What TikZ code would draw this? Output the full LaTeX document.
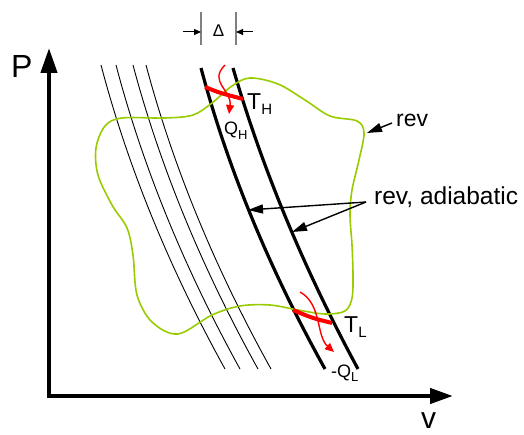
\documentclass[tikz,border=0pt]{standalone}
\usepackage{fontspec}
\setmainfont{Liberation Sans}
\usetikzlibrary{arrows.meta,calc}
\definecolor{blobgreen}{RGB}{153,204,0}
\newcommand{\fsz}[1]{\fontsize{#1}{#1}\selectfont}
\newcommand{\quadcurve}[4][]{\draw[#1] (#2) .. controls ($(#2)!2/3!(#3)$) and ($(#4)!2/3!(#3)$) .. (#4);}
\begin{document}
\begin{tikzpicture}[x=1pt,y=-1pt,
  lbl/.style={inner sep=0pt, anchor=base west},
  axisline/.style={line width=4.2pt, {Triangle[length=23pt,width=15pt]}-{Triangle[length=25pt,width=16pt]}},
  thickcurve/.style={line width=3.2pt},
  thincurve/.style={line width=0.9pt},
  blob/.style={draw=blobgreen, line width=1.6pt},
  heatline/.style={red, line width=4pt},
  heatarrow/.style={red, line width=1.4pt, -{Triangle[length=9pt,width=8pt]}},
  pointer/.style={line width=1.4pt, -{Triangle[length=15pt,width=9pt]}},
  ticker/.style={gray, line width=1.5pt},
  dimarrow/.style={line width=1pt, -{Triangle[length=7pt,width=6pt]}},
]
\useasboundingbox (0,0) rectangle (524,435);

% axes
\coordinate (O) at (49,396);
\coordinate (xtip) at (453,396);
\coordinate (ytip) at (49,48);
\draw[axisline] (xtip) -- (O) -- (ytip);
\node[lbl, font=\fsz{32}] (Plab) at (11,78) {P};
\node[lbl, font=\fsz{30}] (vlab) at (421,428) {v};

% thin isentropes
\foreach \xa/\xb [count=\i] in {101/225, 116/240, 133/258, 146/271}{
  \coordinate (ta\i) at (\xa,65);
  \coordinate (tb\i) at (\xb,369);
  \coordinate (tc\i) at ({(\xa+\xb)/2-22},217);
  \quadcurve[thincurve]{ta\i}{tc\i}{tb\i}
}

% thick adiabats
\coordinate (La) at (201,68); \coordinate (Lc) at (241,218); \coordinate (Lb) at (325,369);
\coordinate (Ra) at (233,68); \coordinate (Rc) at (276.5,218); \coordinate (Rb) at (358,369);
\quadcurve[thickcurve]{La}{Lc}{Lb}
\quadcurve[thickcurve]{Ra}{Rc}{Rb}

% green reversible cycle
\draw[blob] plot[smooth cycle, tension=0.55] coordinates {
 (250,78) (278,84) (305,100) (330,116) (357,121) (364,133) (359,160) (352,190)
 (350,215) (352,245) (353,275) (352,298) (345,311) (325,314) (298,310) (270,305)
 (240,306) (212,315) (178,334) (152,322) (137,295) (133,255) (127,228) (112,205)
 (98,175) (96,148) (105,126) (122,118) (165,118) (193,115) (212,103) (232,86)};

% Delta dimension
\coordinate (d1t) at (201,12); \coordinate (d1b) at (201,45);
\coordinate (d2t) at (236,12); \coordinate (d2b) at (236,45);
\draw[ticker] (d1t) -- (d1b);
\draw[ticker] (d2t) -- (d2b);
\coordinate (d1) at (201,32); \coordinate (d2) at (236,32);
\coordinate (d1s) at (183,32); \coordinate (d2s) at (253,32);
\draw[dimarrow] (d1s) -- (d1);
\draw[dimarrow] (d2s) -- (d2);
\node[inner sep=0pt, font=\fsz{17}] (delta) at (218.5,31) {Δ};

% heat exchange at T_H
\coordinate (h1) at (205,87); \coordinate (h2) at (243,99);
\draw[heatline] (h1) .. controls (220,93) .. (h2);
\coordinate (qh1) at (225,65); \coordinate (qh2) at (229,114);
\draw[heatarrow] (qh1) .. controls (208,82) and (232,90) .. (qh2);
\node[lbl, font=\fsz{23}] (TH) at (247,110) {T\raisebox{-5pt}{\fsz{15}H}};
\node[lbl, font=\fsz{18}] (QH) at (224,135) {Q\raisebox{-5pt}{\fsz{13}H}};

% heat exchange at T_L
\coordinate (l1) at (293,310); \coordinate (l2) at (332,323);
\draw[heatline] (l1) .. controls (312,318) .. (l2);
\coordinate (ql1) at (300,292); \coordinate (ql2) at (334,352);
\draw[heatarrow] (ql1) .. controls (322,304) and (316,336) .. (ql2);
\node[lbl, font=\fsz{23}] (TL) at (344,332) {T\raisebox{-5pt}{\fsz{15}L}};
\node[lbl, font=\fsz{18}] (QL) at (331,377) {-Q\raisebox{-4pt}{\fsz{13}L}};

% annotations
\node[lbl, font=\fsz{23}] (rev) at (396,127) {rev};
\coordinate (revs) at (392,123); \coordinate (revt) at (367,133);
\draw[pointer] (revs) -- (revt);
\node[lbl, font=\fsz{24.5}] (adiab) at (374,205) {rev, adiabatic};
\coordinate (as) at (366,202);
\coordinate (at1) at (248,210); \coordinate (at2) at (292,232);
\draw[pointer] (as) -- (at1);
\draw[pointer] (as) -- (at2);
\end{tikzpicture}
\end{document}
